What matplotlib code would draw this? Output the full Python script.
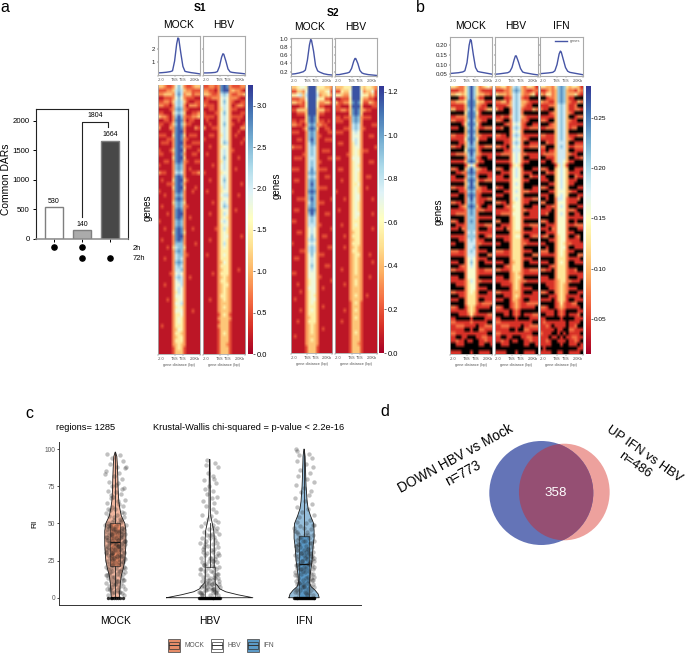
# plot.py

import numpy as np
import matplotlib
matplotlib.use("Agg")
import matplotlib.pyplot as plt
from matplotlib.patches import Ellipse, Rectangle

plt.rcParams["font.family"] = ["Liberation Sans", "DejaVu Sans"]

W, H = 685, 653

# ==========================================================
# Data: panel a bars
# ==========================================================

bar_values = [530, 140, 1664]
bar_colors = ["white", "#ababab", "#484848"]
dot_2h = [1, 1, 0]
dot_72h = [0, 1, 1]
total_72h = 1804

# ==========================================================
# Data: profile lines (x is percent of the plotted window)
# ==========================================================

profile_x = [0, 10, 20, 30, 35, 40, 45, 48, 50, 55, 60, 65, 70, 80, 90, 100]

s1_mock_line = [.20, .22, .25, .30, .36, 1.1, 2.4, 2.85, 2.8, 1.7, .70, .32, .28, .22, .18, .13]
s1_hbv_line = [.20, .20, .21, .24, .30, .70, 1.4, 1.65, 1.62, 1.1, .50, .28, .24, .20, .17, .13]
s2_mock_line = [.14, .15, .17, .20, .24, .48, .85, .98, .96, .70, .34, .22, .19, .15, .13, .12]
s2_hbv_line = [.13, .13, .15, .17, .19, .28, .45, .52, .52, .40, .23, .17, .15, .13, .12, .11]
b_mock_line = [.054, .056, .058, .062, .068, .11, .20, .23, .225, .15, .085, .065, .062, .058, .054, .050]
b_hbv_line = [.050, .052, .055, .058, .064, .085, .125, .145, .145, .115, .080, .062, .058, .054, .050, .047]
b_ifn_line = [.053, .055, .057, .060, .068, .10, .155, .17, .165, .125, .085, .066, .060, .056, .052, .048]

# ==========================================================
# Data: heatmaps, one digit per cell as a read colour level
# ==========================================================

s1_mock_rows = [
    "33211 25752 11233", "11122 36763 22111", "22333 26862 33122", "00111 25752 11100", "11221 36763 10011", "22110 26762 02221",
    "00001 27872 10000", "11000 36763 00112", "32210 27972 11223", "00110 28982 01100", "11001 37973 11000", "20002 28982 00021",
    "00000 28992 00000", "11100 38983 01110", "00011 28982 10000", "01110 28992 00111", "00000 28982 11000", "10001 38993 00001",
    "11000 28982 00110", "00000 38993 00000", "00110 28982 10011", "10000 27872 00000", "00000 27872 01000", "21100 26762 00112",
    "00000 28982 00000", "01000 38993 10000", "00011 28982 00000", "00000 38993 00010", "10000 28982 00100", "00100 27872 00000",
    "00000 28982 00000", "00000 37873 00000", "01000 27872 10000", "00000 28982 00000", "00010 28992 00000", "00000 28982 01000",
    "10000 27872 00000", "00000 27872 00000", "00100 28982 00100", "00000 38983 00000", "00000 28992 00000", "01000 28982 00000",
    "00000 27772 00010", "00010 36773 00000", "00000 27872 00000", "00000 26772 10000", "00100 26762 00000", "00000 27872 00000",
    "00000 26762 00000", "00000 26672 00000", "00001 25652 00000", "00000 26762 01000", "00000 25662 00000", "00100 25562 00000",
    "00000 25652 00000", "00000 24652 00000", "00000 25552 00000", "00010 24552 00000", "00000 25562 00000", "00000 24542 00000",
    "00000 25552 00100", "00000 24452 00000", "00000 24542 00000", "00000 24542 00000", "01000 24442 00000", "00000 23542 00000",
    "00000 24432 00000", "00000 23442 00000", "00000 24442 00000", "00000 23432 00000", "00000 13431 00000", "00000 13331 00000",
]
s1_hbv_rows = [
    "11221 28982 11122", "22110 28992 32210", "33211 26762 11223", "01122 25652 22100", "11000 25752 10011", "21110 25652 01221",
    "00110 24652 11000", "10001 25752 00011", "11110 25652 11110", "01000 25652 00100", "00100 25752 10001", "20011 25652 00022",
    "00000 25652 00100", "00110 24652 01000", "10000 25652 00001", "00000 25762 00010", "00100 24552 00000", "00000 25652 10000",
    "01000 25652 00000", "00000 25752 00100", "00000 24652 00000", "00010 25652 00000", "00000 25652 01000", "10000 24552 00000",
    "00000 25652 00000", "00100 25752 00000", "00000 25652 00010", "00000 24652 00000", "01000 24552 00000", "00000 25662 00100",
    "00000 24552 00000", "00010 25652 00000", "00000 25762 00000", "00000 24552 01000", "00100 24652 00000", "00000 24542 00000",
    "00000 25652 00000", "00000 24552 00000", "00001 24642 00000", "00000 24542 00000", "00000 24552 00010", "00100 24542 00000",
    "00000 24642 00000", "00000 24542 00000", "00000 24442 00000", "01000 24542 00000", "00000 24442 00000", "00000 23542 00000",
    "00000 24442 00000", "00000 23442 00100", "00010 24442 00000", "00000 23432 00000", "00000 24432 00000", "00000 23442 00000",
    "00000 23432 00000", "00000 23432 00000", "00000 24432 00000", "00100 23432 00000", "00000 23332 00000", "00000 23432 00000",
    "00000 23332 00000", "00000 13431 00000", "00000 23332 00000", "00000 13331 00000", "00000 23331 00000", "00000 13331 00000",
    "00000 13431 00000", "00000 13331 00000", "00000 13331 00000", "00000 13321 00000", "00000 13331 00000", "00000 13331 00000",
]
s2_mock_rows = [
    "33455 49994 44332", "11332 59995 33451", "44563 69996 23342", "11122 59995 44110", "33221 49994 22331", "00011 49994 11000",
    "11333 39993 33110", "00111 39993 11000", "00000 38983 00000", "11011 38983 11010", "22110 27872 21100", "00001 38983 00110",
    "11100 27872 00011", "00000 27872 10000", "00110 27972 00111", "00000 26872 00000", "21110 26762 00000", "00000 26762 01110",
    "00001 26762 00000", "01110 26662 00011", "00000 26762 10000", "00000 26762 00000", "11100 26862 11100", "00000 27872 00000",
    "00000 26762 00110", "01100 27872 00000", "00000 27972 00000", "00000 27872 11100", "10000 28982 00000", "00000 27872 00000",
    "00111 27972 00001", "00000 26872 11000", "00000 27872 00000", "01100 28982 00000", "00000 27972 00110", "00000 26762 00000",
    "11000 26762 00000", "00000 26662 10000", "00000 25652 00001", "00110 25652 00000", "00000 25752 01100", "00000 26762 00000",
    "10000 25652 00000", "00000 26762 00011", "00011 26762 00000", "00000 25752 11000", "01100 25652 00000", "00000 25652 00000",
    "00000 25752 00110", "00000 25652 00000", "11000 25552 00000", "00000 25552 10000", "00000 24552 00001", "00100 24552 00000",
    "00000 25552 01000", "00010 24552 00000", "00000 24542 00000", "01000 24552 00000", "00000 24542 00000", "00000 24442 01000",
    "00010 24542 00000", "00000 24442 00000", "00000 23442 00000", "00100 24442 00000", "00000 23432 00000", "00000 23432 01000",
    "00000 23432 00000", "01000 23332 00000", "00000 23432 00000", "00000 23332 00000", "00000 13331 00000", "00000 13331 00000",
]
s2_hbv_rows = [
    "33344 49994 34432", "11433 59995 23351", "44322 59995 44231", "00111 49994 22110", "31122 48984 11321", "11000 39993 00011",
    "11221 38983 21100", "00000 38983 00000", "11011 27872 11100", "11100 27872 00000", "00000 26762 00011", "00011 26762 10000",
    "11100 25652 00000", "00000 25552 00110", "00000 25652 00000", "01100 24652 00000", "00000 24552 00001", "00000 24542 11000",
    "00001 24542 00000", "11000 25552 00000", "00000 24552 00110", "00000 24542 00000", "01100 24552 00000", "00000 24542 00000",
    "00000 24542 01100", "00100 24542 00000", "00000 24452 00000", "00000 24542 01000", "10000 24542 00000", "00000 24552 00000",
    "00010 24552 00010", "00000 24542 00000", "00000 24542 00000", "01000 24542 00000", "00000 24552 00010", "00000 24542 00000",
    "00000 24442 00000", "00100 24542 00000", "00000 24442 00010", "00000 23442 00000", "00010 24442 00000", "00000 23442 00000",
    "00000 24442 00000", "00010 23432 00000", "00000 24432 00000", "00000 23442 00100", "00000 23432 00000", "00000 23432 00010",
    "00000 23432 00000", "00100 23432 00000", "00000 23432 00000", "00000 23332 00100", "00000 23432 00000", "00010 23432 00000",
    "00000 23332 00000", "00000 23332 00000", "00000 23432 01000", "00000 23332 00000", "00000 13431 00000", "00000 13331 00000",
    "00010 13431 00000", "00000 13331 00000", "00000 13431 00000", "00100 13331 00000", "00000 13331 00000", "00000 13331 00000",
    "00000 13431 00000", "00000 13331 00000", "00000 13331 00000", "00000 13321 00000", "00000 13331 00000", "00000 13331 00000",
]
b_mock_rows = [
    "44322 47974 23453", "11122 47974 21111", "33443 47974 33221", "00011 37973 11000", "22333 48984 33111", "11111 38983 21100",
    "33111 37973 11233", "00000 48984 10000", "11222 38983 11111", "22111 37973 21100", "00001 48984 10000", "11100 37973 11222",
    "00000 38983 00000", "22111 37973 21111", "11111 48984 11100", "00011 37973 00000", "22110 37873 11222", "00000 48983 10000",
    "11222 37973 21111", "00000 27872 10011", "11111 38983 11000", "00000 14641 00000", "22100 37973 21100", "00112 28982 11111",
    "11000 27872 00011", "11111 38983 11222", "00000 37973 00000", "22111 38983 21100", "00011 27872 21111", "11100 28982 10000",
    "00000 27972 11122", "22110 27872 11000", "00012 38983 10011", "11111 27872 22111", "11222 27872 00000", "00000 27772 11111",
    "22100 27872 00000", "00111 27772 11222", "11102 27772 00011", "00000 26762 11111", "11111 27772 00122", "00011 26762 11000",
    "11000 26662 21111", "00000 26672 00000", "22211 26762 11100", "11111 26662 00022", "00000 25652 11100", "11100 25752 00111",
    "00012 25652 00000", "22111 25552 11222", "00000 25552 11111", "11100 25552 00000", "11111 24652 21111", "00111 24552 00000",
    "00000 24552 11100", "22111 24542 00011", "00011 24442 11111", "11100 24442 00111", "00000 24442 12222", "22100 13431 11110",
    "11111 13431 00000", "00011 12421 11122", "11000 00100 00111", "22111 11211 11100", "11222 11110 11222", "11111 00100 22111",
    "22111 11111 11100", "11001 10001 12211", "11211 01100 11211", "00111 00000 11001", "00000 00000 00000", "11110 00100 11110",
]
b_hbv_rows = [
    "33442 36763 24431", "11122 37873 21122", "43332 36763 22341", "00011 26762 11000", "22331 36763 32111", "11112 36763 21100",
    "31100 26762 11132", "00000 26762 00000", "11211 36763 21111", "22100 26762 21000", "00012 25652 10011", "11200 26762 11222",
    "00000 25652 00000", "22110 26762 11111", "11111 25652 21000", "00011 26762 00111", "22110 25652 11222", "00011 26662 00000",
    "11222 25652 21111", "00000 25652 00111", "11111 25652 11000", "00000 14541 00000", "22100 25652 00011", "00111 25652 11100",
    "11100 25652 00211", "11111 25552 11000", "00000 25652 00000", "21100 25552 00011", "00011 25652 22111", "11100 25552 00000",
    "00000 25652 11122", "22110 24552 11000", "00012 25552 00011", "11111 24552 21111", "11222 25552 00111", "00000 24552 11111",
    "22000 24552 00000", "00111 24552 11222", "11102 24552 00011", "00000 24442 11111", "11111 24552 00122", "00011 24442 11000",
    "11000 24442 21111", "00000 24442 00000", "22211 24442 11100", "11111 24442 00022", "00000 24442 11100", "11100 23442 00111",
    "00012 24442 00000", "22111 24442 11222", "00000 23432 11111", "11100 23442 00000", "11111 23432 21111", "00111 13431 00000",
    "00000 13431 11100", "22111 13331 00011", "00011 13431 11111", "11100 13321 00111", "00000 12321 12222", "22100 12321 11110",
    "11111 01210 00000", "00011 01210 11122", "11000 00100 00111", "22111 11111 11100", "11222 11110 11222", "11111 00100 22111",
    "22111 11111 11100", "11001 10001 12211", "11211 01100 11211", "00111 00000 11001", "00000 00000 00000", "11110 00100 11110",
]
b_ifn_rows = [
    "44332 47874 34431", "11232 37873 22132", "32442 37873 33421", "00122 37873 11000", "32211 37873 21132", "11122 36763 11200",
    "21100 36763 11221", "00012 36763 21000", "11111 36763 00122", "22100 36763 21100", "00012 36763 11111", "11222 36763 12200",
    "00000 36763 00000", "22111 36763 11122", "11111 36763 21000", "00211 36663 00111", "22000 36763 11222", "11011 36663 00111",
    "12222 36663 21100", "00111 36663 00112", "11001 36653 11000", "00000 14641 00000", "22100 35653 00111", "00211 35653 11110",
    "11000 35653 00211", "11100 35653 11100", "00011 35653 11000", "22100 35653 00011", "00011 35553 21100", "11100 35653 00011",
    "00100 26652 11120", "22000 25552 11100", "00112 25652 00011", "11110 25552 22100", "11200 25652 00110", "00000 25552 11111",
    "22100 25552 00100", "00111 25552 11222", "11102 25552 00011", "00111 25552 11000", "12200 24552 00120", "00011 24552 11110",
    "11000 24542 21111", "00100 24552 00111", "22200 24542 11000", "11111 24542 00022", "00000 24442 11110", "11100 24542 00111",
    "00012 24442 00000", "22110 24442 11200", "00000 24442 11111", "11100 24442 00011", "11111 23442 21110", "00111 23432 00000",
    "00011 23432 11100", "22100 23432 00011", "00011 13431 11110", "11110 13431 00111", "00000 12421 12200", "22100 12321 11110",
    "11111 01210 00011", "00111 01210 11120", "11000 00100 00111", "12111 11110 11110", "11210 11110 11200", "11111 01100 22111",
    "21110 01010 11110", "11101 10101 12211", "11210 01110 11210", "11110 00100 11101", "01000 00000 00011", "11110 01100 11110",
]

# colour scale limits of the three heatmap groups
s1_vmax = 3.25
s2_vmax = 1.227
b_vmin = 0.015
b_vmax = 0.282

s1_ticks = [0.0, 0.5, 1.0, 1.5, 2.0, 2.5, 3.0]
s2_ticks = [0.0, 0.2, 0.4, 0.6, 0.8, 1.0, 1.2]
b_ticks = [0.05, 0.10, 0.15, 0.20, 0.25]

# ==========================================================
# Data: panel c violins and boxes
# ==========================================================

groups = ["MOCK", "HBV", "IFN"]
group_colors = ["#e2784e", "#ffffff", "#3f88bd"]

mock_ri = [0, 5, 10, 15, 20, 25, 30, 35, 40, 45, 50, 55, 60, 65, 70, 75, 80, 85, 90, 95, 98]
mock_width = [.043, .048, .053, .064, .085, .101, .106, .112, .112, .112, .101, .064, .048, .037, .032, .029, .027, .024, .021, .016, .002]

hbv_ri = [0, 2, 4, 6, 8, 10, 15, 20, 25, 30, 35, 40, 45, 50, 55, 60, 70, 80, 93]
hbv_width = [.457, .298, .170, .106, .085, .053, .048, .048, .048, .048, .048, .048, .043, .027, .011, .007, .007, .005, .003]

ifn_ri = [0, 2.5, 5, 7.5, 10, 15, 20, 25, 30, 35, 40, 45, 50, 55, 60, 65, 70, 75, 80, 85, 90, 95, 100]
ifn_width = [.160, .149, .117, .074, .059, .064, .074, .085, .090, .096, .106, .106, .101, .069, .043, .032, .027, .021, .018, .016, .013, .011, .002]

box_stats = [
    {"med": 37.5, "q1": 21.5, "q3": 50, "whislo": 0, "whishi": 98},
    {"med": 0, "q1": 0, "q3": 20.5, "whislo": 0, "whishi": 50},
    {"med": 22.5, "q1": 0, "q3": 41.5, "whislo": 0, "whishi": 100},
]

# jitter in hundredths of a category, RI as read
mock_jit = [
    -9, 5, -3, 8, -6, 2, 10, -10, 4, -1,
    7, -7, 3, -4, 9, -8, 1, 6, -2, -5,
    10, -9, 4, 8, -3, 0, -6, 7, -10, 2,
    -7, 9, 5, -1, -4, 6, -8, 3, 11, -11,
    1, -6, 7, -2, 9, -9, 4, -5, 8, 0,
    -3, 10, -7, 2, 6, -10, 5, -1, -8, 3,
    9, -4, 7, -6, 1, 10, -9, 4, -2, 8,
    -5, 0, 6, -7, 3, -10, 9, -3, 5, -8,
    2, 7, -1, -6, 10, -4, 8, -9, 0, 4,
    -7, 6, -2, 3, -10, 9, -5, 1, 7, -8,
    4, -3, 10, -6, 2, 8, -9, 5, -1, -4,
    7, -8, 0, 9, -5, 3, -10, 6, -2, 1,
    -7, 8, 4, -3, 10, -9, 2, -6, 5, -1,
    7, -4, 9, -8, 0, 3, -10, 6, -5, 1,
    8, -2, -7, 4, 10, -9, 3, -4, 6, -1,
    -8, 3, 9, -5, 1, -10, 6, -3, 7, 0,
    -6, 10, 2, -9, 5, -2, 8, -7, 4, -4,
    11, -11, 1, 7, -5, 3, -8, 9, -1, 6,
    -3, 5, -10, 8, 0, -6, 4, 10, -7, 2,
    7, -9, 3, -4, 9, -1, 6, -8, 1, -5,
]
mock_y = [
    97, 96, 94, 92, 90, 88, 87, 85, 84, 82,
    80, 78, 77, 75, 74, 72, 71, 70, 68, 67,
    66, 64, 63, 62, 61, 60, 59, 58, 57, 56,
    55, 54, 53, 52, 51, 51, 50, 50, 49, 49,
    48, 48, 47, 47, 46, 46, 45, 45, 44, 44,
    43, 43, 42, 42, 41, 41, 40, 40, 39, 39,
    38, 38, 37, 37, 36, 36, 35, 35, 34, 34,
    33, 33, 32, 32, 31, 31, 30, 30, 29, 29,
    28, 28, 27, 27, 26, 26, 25, 25, 24, 24,
    23, 23, 22, 22, 21, 21, 20, 20, 19, 19,
    18, 18, 17, 17, 16, 16, 15, 15, 14, 14,
    13, 13, 12, 12, 11, 11, 10, 10, 9, 9,
    8, 8, 7, 7, 6, 6, 5, 5, 4, 4,
    3, 3, 2, 2, 46, 39, 33, 28, 43, 36,
    41, 31, 47, 26, 38, 44, 35, 29, 42, 37,
    48, 34, 27, 40, 45, 30, 36, 25, 43, 32,
    49, 38, 28, 41, 33, 46, 24, 37, 44, 30,
    88, 83, 76, 73, 69, 65, 60, 57, 54, 52,
    22, 18, 15, 12, 9, 6, 4, 20, 16, 11,
    47, 39, 35, 42, 31, 27, 45, 34, 40, 29,
]

hbv_jit = [
    -3, 6, -4, 9, -2, 3, 5, -6, 7, -1,
    -5, 4, -3, 8, 2, -7, 5, -4, 3, 7,
    -8, 1, -2, 6, 9, -5, 3, -9, 4, -1,
    7, -6, 2, 10, -3, 5, -8, 0, 6, -4,
    8, -10, 3, -2, 9, -6, 5, 1, -7, 4,
    -3, 10, -5, 7, 0, -9, 6, -1, 3, -8,
    8, -4, 2, -6, 5, 10, -2, -9, 7, 1,
    -5, 4, -10, 8, -3, 6, -7, 0, 9, -1,
    3, -8, 5, -4, 10, 2, -6, 7, -9, 1,
    -2, 4, 8, -5, 6, -10, 3, -7, 0, 9,
    -6, 2, 10, -9, 5, -3, 7, -1, -8, 4,
    0, -5, 9, 3, -10, 6, -2, 8, -7, 1,
    -4, 7, 11, -11, 2, -8, 5, -3, 9, -6,
]
hbv_y = [
    93, 91, 89, 88, 84, 82, 80, 79, 77, 75,
    73, 72, 70, 68, 67, 65, 64, 62, 60, 58,
    56, 55, 53, 52, 51, 50, 49, 48, 47, 46,
    45, 44, 43, 43, 42, 41, 40, 40, 39, 38,
    37, 37, 36, 35, 34, 34, 33, 32, 31, 31,
    30, 29, 29, 28, 27, 27, 26, 25, 25, 24,
    24, 23, 22, 22, 21, 21, 20, 19, 19, 18,
    18, 17, 16, 16, 15, 15, 14, 13, 13, 12,
    12, 11, 10, 10, 9, 9, 8, 8, 7, 7,
    6, 6, 5, 5, 4, 4, 3, 3, 2, 2,
    8, 5, 11, 3, 14, 7, 4, 10, 2, 6,
    42, 36, 30, 25, 19, 13, 9, 47, 33, 27,
    5, 3, 7, 4, 9, 2, 6, 12, 16, 22,
]

ifn_jit = [
    -9, -7, 5, -5, 8, -8, 2, 9, -4, 6,
    -6, 3, 10, -9, 0, 7, -3, 5, -10, 1,
    8, -7, 4, -2, 10, -5, 6, -8, 2, 9,
    -4, 0, 7, -10, 3, -6, 9, 1, -3, 5,
    -8, 10, -1, 6, -5, 2, -9, 8, 4, -7,
    0, 9, -3, 5, -10, 7, -6, 1, 3, -8,
    10, -2, 6, -5, 4, -9, 8, 0, -7, 2,
    -4, 9, 5, -10, 1, 7, -3, -8, 4, 10,
    -6, 2, 8, -1, -9, 5, 3, -5, 9, -7,
    0, 6, -2, 10, -8, 4, -4, 7, 1, -10,
    5, -6, 9, 3, -3, 8, -9, 0, 6, -5,
    2, 10, -7, 4, -1, 7, -10, 3, 9, -4,
    -8, 1, 6, -2, 11, -11, 4, -6, 8, -3,
    9, -5, 0, 7, -9, 2, -1, 5, -7, 10,
]
ifn_y = [
    100, 99, 97, 96, 94, 92, 90, 88, 86, 84,
    82, 80, 78, 76, 74, 72, 71, 69, 67, 65,
    63, 61, 60, 58, 56, 54, 52, 51, 50, 49,
    48, 47, 46, 45, 44, 43, 42, 42, 41, 40,
    39, 38, 38, 37, 36, 35, 35, 34, 33, 32,
    32, 31, 30, 30, 29, 28, 28, 27, 26, 26,
    25, 25, 24, 23, 23, 22, 22, 21, 20, 20,
    19, 19, 18, 17, 17, 16, 16, 15, 14, 14,
    13, 13, 12, 12, 11, 11, 10, 10, 9, 9,
    8, 8, 7, 7, 6, 6, 5, 5, 4, 4,
    3, 3, 2, 2, 30, 26, 35, 29, 24, 40,
    31, 27, 22, 33, 18, 37, 15, 28, 12, 34,
    44, 38, 30, 25, 21, 47, 42, 36, 28, 19,
    16, 10, 7, 13, 5, 3, 9, 23, 32, 49,
]

# regions sitting exactly at RI = 0, across the jitter band
mock_zero_jit = [-8, -5, -3, -1, 1, 3, 5, 8]
hbv_zero_jit = [-11, -10, -9, -8, -7, -6, -5, -4, -3, -2, -1, 0, 1, 2, 3, 4, 5, 6, 7, 8, 9, 10, 11]
ifn_zero_jit = [-11, -10, -9, -8, -7, -6, -5, -4, -3, -2, -1, 0, 1, 2, 3, 4, 5, 6, 7, 8, 9, 10, 11]

# ==========================================================
# Helpers
# ==========================================================

fig = plt.figure(figsize=(W / 100, H / 100), dpi=100)


def ax_px(x0, y0, x1, y1):
    return fig.add_axes([x0 / W, 1 - y1 / H, (x1 - x0) / W, (y1 - y0) / H])


def decode(rows, vmax):
    levels = np.array([[int(c) for c in r.replace(" ", "")] for r in rows])
    return (levels + 0.5) / 10 * vmax


def region_ticks(ax):
    ax.set_xticks([0, 40, 60, 100])
    labels = ax.set_xticklabels(["-2.0", "TSS", "TES", "2.0Kb"], fontsize=2.8, color="#555555")
    labels[0].set_horizontalalignment("left")
    labels[3].set_horizontalalignment("right")
    ax.tick_params(axis="x", length=1.5, width=0.3, pad=1, color="#777777")


def profile(box, values, ylim, yticks, ylabels):
    ax = ax_px(*box)
    ax.plot(profile_x, values, color="#4655a5", lw=1.0, label="genes")
    ax.set_xlim(0, 100)
    ax.set_ylim(*ylim)
    ax.set_yticks(yticks)
    ax.set_yticklabels(ylabels, fontsize=4.4, color="#222222")
    ax.tick_params(axis="y", length=1, width=0.3, pad=1)
    region_ticks(ax)
    for s in ax.spines.values():
        s.set_color("#aaaaaa")
        s.set_linewidth(0.8)
    return ax


def heat(box, rows, vmin, vmax, cmap):
    ax = ax_px(*box)
    im = ax.imshow(
        decode(rows, vmax),
        cmap=cmap,
        vmin=vmin,
        vmax=vmax,
        aspect="auto",
        interpolation="bilinear",
        extent=[0, 100, 0, 1],
    )
    ax.set_yticks([])
    region_ticks(ax)
    ax.set_xlabel("gene distance (bp)", fontsize=2.8, color="#555555", labelpad=0.8)
    ax.spines["top"].set_visible(False)
    for name in ["left", "right", "bottom"]:
        ax.spines[name].set_color("#aaaaaa")
        ax.spines[name].set_linewidth(0.6)
    return im


def colorbar(im, box, ticks, fmt, size):
    cax = ax_px(*box)
    cb = fig.colorbar(im, cax=cax)
    cb.set_ticks(ticks)
    cb.set_ticklabels([fmt % t for t in ticks])
    cb.ax.tick_params(labelsize=size, length=1.2, width=0.4, pad=1.2)
    cb.outline.set_visible(False)


cmap_a = plt.get_cmap("RdYlBu").copy()
cmap_b = plt.get_cmap("RdYlBu").copy()
cmap_b.set_under("black")

# ==========================================================
# Panel a: bars
# ==========================================================

ax = ax_px(35.5, 109, 128, 238.5)
x = np.arange(3)
ax.bar(x, bar_values, width=0.66, color=bar_colors, edgecolor="#7f7f7f", linewidth=1.0)
ax.set_xlim(-0.66, 2.64)
ax.set_ylim(0, 2203)
ax.set_xticks(x)
ax.set_xticklabels([])
ax.set_yticks([0, 500, 1000, 1500, 2000])
ax.tick_params(axis="y", labelsize=5.6, length=2.5, width=0.7, pad=1.5)
ax.tick_params(axis="x", length=2, width=0.7)
for s in ax.spines.values():
    s.set_linewidth(0.8)
    s.set_color("#222222")
ax.spines["bottom"].set_color("#8a8a8a")
ax.spines["bottom"].set_linewidth(1.1)
for i, v in enumerate(bar_values):
    ax.text(i, v + 45, str(v), ha="center", va="bottom", fontsize=5)

ax.plot([1, 1, 1.93, 1.93], [365, 1985, 1985, 1900], color="#222222", lw=0.8)
ax.text(1.46, 2040, str(total_72h), ha="center", va="bottom", fontsize=5)

# membership dots under the bars
trans = ax.get_xaxis_transform()
ax.scatter(x[np.array(dot_2h) == 1], [-0.062] * sum(dot_2h), s=14, color="black", transform=trans, clip_on=False)
ax.scatter(x[np.array(dot_72h) == 1], [-0.147] * sum(dot_72h), s=14, color="black", transform=trans, clip_on=False)

# ==========================================================
# Panel a: S1 and S2 profiles and heatmaps
# ==========================================================

s1_ylim = (0.08, 3.0)
s2_ylim = (0.096, 1.017)

profile((158, 36, 199.5, 74.5), s1_mock_line, s1_ylim, [1, 2], ["1", "2"])
profile((202.5, 36, 245, 74.5), s1_hbv_line, s1_ylim, [1, 2], ["", ""])

heat((158, 85, 199.5, 354), s1_mock_rows, 0, s1_vmax, cmap_a)
im = heat((202.5, 85, 245, 354), s1_hbv_rows, 0, s1_vmax, cmap_a)
colorbar(im, (248, 85, 253, 354), s1_ticks, "%.1f", 5.4)

s2_labels = ["0.2", "0.4", "0.6", "0.8", "1.0"]
profile((291, 38, 332, 76), s2_mock_line, s2_ylim, [.2, .4, .6, .8, 1.0], s2_labels)
profile((335, 38, 376.5, 76), s2_hbv_line, s2_ylim, [.2, .4, .6, .8, 1.0], [""] * 5)

heat((291, 86, 332, 353), s2_mock_rows, 0, s2_vmax, cmap_a)
im = heat((335, 86, 376.5, 353), s2_hbv_rows, 0, s2_vmax, cmap_a)
colorbar(im, (379, 86, 384, 353), s2_ticks, "%.1f", 5.4)

# ==========================================================
# Panel b
# ==========================================================

b_ylim = (0.041, 0.243)
b_yticks = [.05, .10, .15, .20]
b_labels = ["0.05", "0.10", "0.15", "0.20"]

profile((450, 37, 492.5, 76), b_mock_line, b_ylim, b_yticks, b_labels)
profile((495, 37, 537.5, 76), b_hbv_line, b_ylim, b_yticks, [""] * 4)
ax_ifn = profile((540, 37, 582.5, 76), b_ifn_line, b_ylim, b_yticks, [""] * 4)
ax_ifn.legend(loc="upper right", fontsize=2.8, frameon=False, handlelength=3, borderaxespad=0.2, labelcolor="#555555")

heat((450, 86, 492.5, 354), b_mock_rows, b_vmin, b_vmax, cmap_b)
heat((495, 86, 537.5, 354), b_hbv_rows, b_vmin, b_vmax, cmap_b)
im = heat((540, 86, 582.5, 354), b_ifn_rows, b_vmin, b_vmax, cmap_b)
colorbar(im, (586, 86, 590.5, 354), b_ticks, "%.2f", 4.6)

# ==========================================================
# Panel c: violins
# ==========================================================

ax = ax_px(58.7, 441.7, 360.7, 605.3)

violins = [(mock_ri, mock_width), (hbv_ri, hbv_width), (ifn_ri, ifn_width)]
for i, (ri, width) in enumerate(violins):
    ri = np.array(ri)
    width = np.array(width)
    ax.fill_betweenx(ri, i - width, i + width, facecolor=group_colors[i], alpha=0.55, zorder=2)
    ax.plot(
        np.r_[i - width, (i + width)[::-1], i - width[0]],
        np.r_[ri, ri[::-1], ri[0]],
        color="#1a1a1a",
        lw=0.6,
        zorder=3,
    )

boxes = ax.bxp(
    box_stats,
    positions=[0, 1, 2],
    widths=0.106,
    patch_artist=True,
    showcaps=False,
    showfliers=False,
    manage_ticks=False,
    zorder=3,
    medianprops={"color": "#111111", "lw": 1.0},
    whiskerprops={"color": "#222222", "lw": 0.6},
    boxprops={"edgecolor": "#222222", "lw": 0.6},
)
for patch, c in zip(boxes["boxes"], group_colors):
    patch.set_facecolor(c)
    patch.set_alpha(0.7)

jitters = [(mock_jit, mock_y, mock_zero_jit), (hbv_jit, hbv_y, hbv_zero_jit), (ifn_jit, ifn_y, ifn_zero_jit)]
for i, (jit, ri, zero_jit) in enumerate(jitters):
    n = min(len(jit), len(ri))
    ax.scatter(i + np.array(jit[:n]) * 0.01, ri[:n], s=10, color="#222222", alpha=0.28, linewidths=0, zorder=4)
    ax.scatter(i + np.array(zero_jit) * 0.01, [0] * len(zero_jit), s=6, color="black", alpha=0.8, linewidths=0, zorder=4, clip_on=False)

ax.set_xlim(-0.6, 2.6)
ax.set_ylim(-5.1, 105)
ax.set_xticks([0, 1, 2])
ax.set_xticklabels(groups, fontsize=7.4)
ax.set_yticks([0, 25, 50, 75, 100])
ax.tick_params(axis="y", labelsize=4.8, labelcolor="#555555", length=1.5, width=0.5, pad=1)
ax.tick_params(axis="x", length=0, pad=8)
ax.set_ylabel("RI", fontsize=6, labelpad=4)
ax.spines["top"].set_visible(False)
ax.spines["right"].set_visible(False)
ax.spines["left"].set_color("#333333")
ax.spines["bottom"].set_color("#333333")
ax.spines["left"].set_linewidth(0.7)
ax.spines["bottom"].set_linewidth(0.7)

# ==========================================================
# Overlay in pixel coordinates: titles, legend, venn
# ==========================================================

ov = fig.add_axes([0, 0, 1, 1], zorder=10)
ov.set_xlim(0, W)
ov.set_ylim(H, 0)
ov.axis("off")


def label(x, y, s, size, **kw):
    ov.text(x, y, s, fontsize=size, ha=kw.pop("ha", "center"), va="center", **kw)


label(0, 8, "a", 11.5, ha="left")
label(416, 8, "b", 11.5, ha="left")
label(25, 413, "c", 11.5, ha="left")
label(380, 412, "d", 11.5, ha="left")

label(200, 8, "S1", 7.4, fontweight="bold")
label(178.5, 25, "MOCK", 7.4)
label(223.5, 25, "HBV", 7.4)
label(333, 13, "S2", 7.4, fontweight="bold")
label(310, 27, "MOCK", 7.4)
label(356, 27, "HBV", 7.4)
label(470.5, 26, "MOCK", 7.4)
label(516, 26, "HBV", 7.4)
label(561.5, 26, "IFN", 7.4)

label(6, 179, "Common DARs", 7.4, rotation=90)
label(147.5, 208, "genes", 7, rotation=90)
label(277, 186, "genes", 7, rotation=90)
label(439, 212, "genes", 7, rotation=90)

label(132.5, 248, "2h", 5.4, ha="left")
label(132.5, 258, "72h", 5.4, ha="left")

label(56.5, 428, "regions= 1285", 6.7, ha="left")
label(153.5, 428, "Krustal-Wallis chi-squared = p-value < 2.2e-16", 6.7, ha="left")

# legend keys of panel c
key_x = [167.7, 210.7, 246.7]
text_x = [185, 227.5, 263.3]
for kx, tx, name, c in zip(key_x, text_x, groups, group_colors):
    ov.add_patch(Rectangle((kx, 639), 12.6, 12.6, facecolor=c, edgecolor="#555555", lw=0.7, alpha=0.85))
    ov.add_patch(Rectangle((kx + 1.5, 642), 9.6, 6.6, facecolor="none", edgecolor="#333333", lw=0.5))
    ov.plot([kx + 1.5, kx + 11.1], [645.3, 645.3], color="#333333", lw=0.7)
    label(tx, 645.3, name, 4.8, ha="left", color="#555555")

# venn
blue = Ellipse((541.3, 493), 104, 104, facecolor="#6474b7", edgecolor="none")
pink = Ellipse((564.3, 492), 90.7, 96.6, facecolor="#eda19d", edgecolor="none")
overlap = Ellipse((541.3, 493), 104, 104, facecolor="#954f73", edgecolor="none")
ov.add_patch(pink)
ov.add_patch(blue)
ov.add_patch(overlap)
clip = Ellipse((564.3, 492), 90.7, 96.6, transform=ov.transData)
overlap.set_clip_path(clip)

label(555.7, 493, "358", 9.6, color="white")
label(456, 459, "DOWN HBV vs Mock", 9.8, rotation=28.7, rotation_mode="anchor")
label(463, 473, "n=773", 9.8, rotation=28.7, rotation_mode="anchor")
label(644.5, 454, "UP IFN vs HBV", 9.4, rotation=-35, rotation_mode="anchor")
label(635, 465, "n=486", 9.4, rotation=-35, rotation_mode="anchor")

fig.savefig("out.png", dpi=100)
